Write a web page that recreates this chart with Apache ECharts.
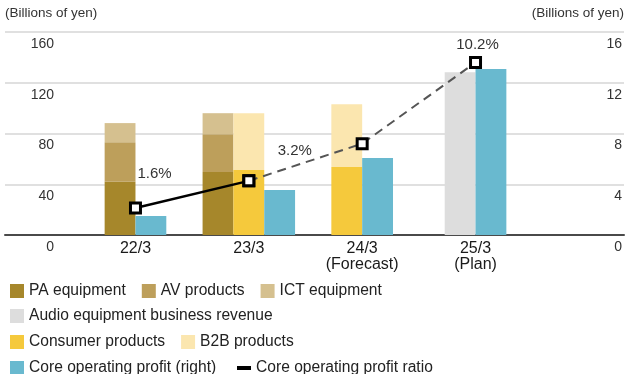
<!DOCTYPE html>
<html>
<head>
<meta charset="utf-8">
<script src="https://cdn.jsdelivr.net/npm/echarts@6/dist/echarts.min.js"></script>
<style>
  html, body { margin: 0; padding: 0; background: #fff; }
  #chart { width: 627px; height: 374px; }
</style>
</head>
<body>
<div id="chart"></div>
<script>
// Fiscal years (x axis)
const categories = ['22/3', '23/3', '24/3\n(Forecast)', '25/3\n(Plan)'];

// Revenue by segment, billions of yen (left axis)
const paEquipment      = [42.0, 49.6, null, null];
const avProducts       = [31.2, 29.9, null, null];
const ictEquipment     = [15.0, 16.5, null, null];
const audioRevenue     = [null, null, null, 128.3];
const consumerProducts = [null, 51.2, 53.5, null];
const b2bProducts      = [null, 44.8, 49.6, null];

// Core operating profit, billions of yen (right axis)
const coreProfit = [1.5, 3.55, 6.07, 13.08];

// Core operating profit ratio, %
const profitRatio    = [1.6, 3.2, 5.4, 10.2];
const ratioLabelled  = [true, true, false, true];

// ---- styling ----
const FONT = '"Liberation Sans", Arial, sans-serif';
const BAR_SHARE = 0.272;          // bar width as a share of the category band
const COLORS = {
  pa: '#a6872b', av: '#bd9f5b', ict: '#d5c08f',
  audio: '#dddddd', consumer: '#f5c93c', b2b: '#fbe6af',
  profit: '#69b9cf'
};
const labelOffsets = [[19, -34], [46, -30], [0, 0], [2, -18]];

// Columns drawn side by side inside each category, left to right
const columnGroups = [
  { key: 'segments', series: [paEquipment, avProducts, ictEquipment] },
  { key: 'products', series: [consumerProducts, b2bProducts] },
  { key: 'audio',    series: [audioRevenue] },
  { key: 'profit',   series: [coreProfit] }
];

function columnOffset(catIndex, key) {
  const present = columnGroups.filter(g => g.series.some(s => s[catIndex] != null));
  const j = present.findIndex(g => g.key === key);
  return j - (present.length - 1) / 2;
}

function stackBase(list, idx, catIndex) {
  let b = 0;
  for (let k = 0; k < idx; k++) b += list[k][catIndex] || 0;
  return b;
}

function renderColumn(params, api) {
  const i = api.value(0);
  const top = api.coord([i, api.value(1)]);
  const bottom = api.coord([i, api.value(2)]);
  const w = api.size([1, 0])[0] * BAR_SHARE;
  const cx = top[0] + api.value(3) * w;
  return {
    type: 'rect',
    shape: { x: cx - w / 2, y: top[1], width: w, height: bottom[1] - top[1] },
    style: { fill: api.visual('color') }
  };
}

function columnSeries(name, values, groupKey, color, yAxisIndex) {
  const group = columnGroups.find(g => g.key === groupKey);
  const pos = group.series.indexOf(values);
  const data = [];
  values.forEach((v, i) => {
    if (v == null) return;
    const base = stackBase(group.series, pos, i);
    data.push([i, base + v, base, columnOffset(i, groupKey)]);
  });
  return {
    type: 'custom', name, xAxisIndex: 1, yAxisIndex,
    itemStyle: { color },
    renderItem: renderColumn,
    data, z: 3
  };
}

function ratioData(keep) {
  return profitRatio.map((v, i) => {
    if (!keep(i)) return null;
    return {
      value: v,
      label: {
        show: ratioLabelled[i],
        position: 'inside',
        offset: labelOffsets[i]
      }
    };
  });
}

const markerStyle = { color: '#fff', borderColor: '#000', borderWidth: 3 };
const ratioLabel = { fontSize: 15, color: '#333', fontFamily: FONT, formatter: p => p.value.toFixed(1) + '%' };

const legendBase = {
  left: 5, itemWidth: 14, itemHeight: 14, itemGap: 16, icon: 'rect',
  textStyle: { fontSize: 15.6, color: '#222', fontFamily: FONT }
};

const chart = echarts.init(document.getElementById('chart'));
chart.setOption({
  animation: false,
  grid: [
    { left: 5, right: 0, top: 32, bottom: 139 },
    { left: 78.8, right: 94.8, top: 32, bottom: 139 }
  ],
  xAxis: [
    {
      type: 'value', gridIndex: 0, min: 0, max: 1,
      axisLine: { show: true, onZero: false, lineStyle: { color: '#4a4a4a', width: 2 } },
      axisTick: { show: false }, axisLabel: { show: false }, splitLine: { show: false }
    },
    {
      type: 'category', gridIndex: 1, data: categories,
      axisLine: { show: false }, axisTick: { show: false },
      axisLabel: { fontSize: 16, color: '#1a1a1a', fontFamily: FONT, margin: 6, lineHeight: 16 }
    }
  ],
  yAxis: [
    {
      type: 'value', gridIndex: 0, min: 0, max: 160, interval: 40, position: 'left',
      name: '(Billions of yen)', nameLocation: 'end', nameGap: 19,
      nameTextStyle: { align: 'left', verticalAlign: 'middle', fontSize: 13.5, color: '#333', fontFamily: FONT },
      axisLine: { show: false }, axisTick: { show: false },
      axisLabel: { inside: true, margin: 49, align: 'right', verticalAlign: 'top', padding: [5, 0, 0, 0],
                   fontSize: 14, color: '#333', fontFamily: FONT },
      splitLine: { lineStyle: { color: '#d6d6d6', width: 1.5 } }
    },
    {
      type: 'value', gridIndex: 0, min: 0, max: 16, interval: 4, position: 'right',
      name: '(Billions of yen)', nameLocation: 'end', nameGap: 19,
      nameTextStyle: { align: 'right', verticalAlign: 'middle', fontSize: 13.5, color: '#333', fontFamily: FONT },
      axisLine: { show: false }, axisTick: { show: false },
      axisLabel: { inside: true, margin: 2, align: 'right', verticalAlign: 'top', padding: [5, 0, 0, 0],
                   fontSize: 14, color: '#333', fontFamily: FONT },
      splitLine: { show: false }
    },
    { type: 'value', gridIndex: 1, min: 0, max: 160, interval: 40, show: false },
    { type: 'value', gridIndex: 1, min: 0, max: 16, interval: 4, show: false, position: 'right' },
    { type: 'value', gridIndex: 1, min: 0, max: 12, interval: 3, show: false, position: 'right' }
  ],
  legend: [
    Object.assign({}, legendBase, { top: 278, data: ['PA equipment', 'AV products', 'ICT equipment'] }),
    Object.assign({}, legendBase, { top: 303, data: ['Audio equipment business revenue'] }),
    Object.assign({}, legendBase, { top: 329, data: ['Consumer products', 'B2B products'] }),
    Object.assign({}, legendBase, { top: 355, data: ['Core operating profit (right)'] }),
    Object.assign({}, legendBase, {
      left: 232, top: 355, itemHeight: 4,
      data: [{ name: 'Core operating profit ratio', icon: 'rect', itemStyle: { color: '#000', borderWidth: 0 } }]
    })
  ],
  series: [
    columnSeries('PA equipment', paEquipment, 'segments', COLORS.pa, 2),
    columnSeries('AV products', avProducts, 'segments', COLORS.av, 2),
    columnSeries('ICT equipment', ictEquipment, 'segments', COLORS.ict, 2),
    columnSeries('Audio equipment business revenue', audioRevenue, 'audio', COLORS.audio, 2),
    columnSeries('Consumer products', consumerProducts, 'products', COLORS.consumer, 2),
    columnSeries('B2B products', b2bProducts, 'products', COLORS.b2b, 2),
    columnSeries('Core operating profit (right)', coreProfit, 'profit', COLORS.profit, 3),
    {
      // results: solid line
      type: 'line', name: 'Core operating profit ratio', xAxisIndex: 1, yAxisIndex: 4,
      data: ratioData(i => i <= 1),
      symbol: 'rect', symbolSize: 10, itemStyle: markerStyle,
      lineStyle: { color: '#000', width: 2.5 },
      label: ratioLabel, z: 6
    },
    {
      // forecast and plan: dashed line
      type: 'line', name: 'Core operating profit ratio', xAxisIndex: 1, yAxisIndex: 4,
      data: ratioData(i => i >= 1).map((d, i) => (d && i === 1) ? Object.assign({}, d, { label: { show: false } }) : d),
      symbol: 'rect', symbolSize: 10, itemStyle: markerStyle,
      lineStyle: { color: '#555', width: 2, type: [9, 6] },
      label: ratioLabel, z: 5
    }
  ]
});
</script>
</body>
</html>
